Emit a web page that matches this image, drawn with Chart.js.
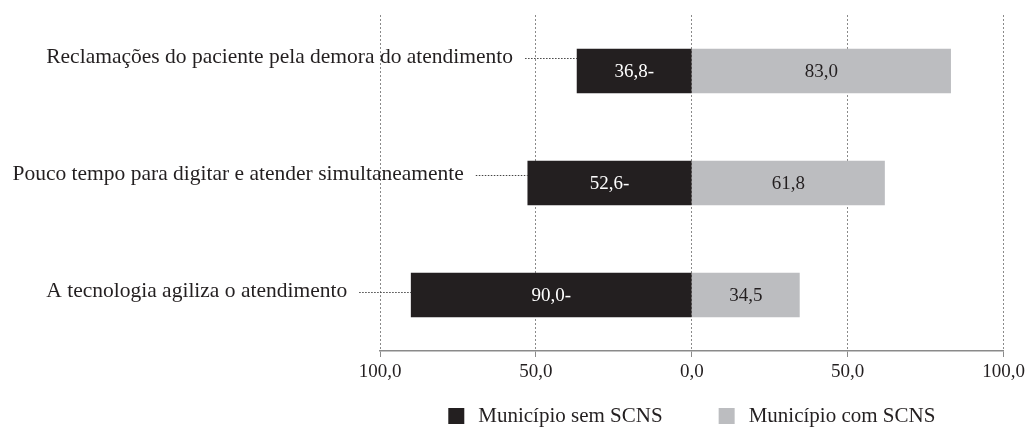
<!DOCTYPE html>
<html>
<head>
<meta charset="utf-8">
<script src="https://cdn.jsdelivr.net/npm/chart.js@4.4.1/dist/chart.umd.min.js"></script>
<style>
  html, body { margin: 0; padding: 0; background: #fff; }
  #wrap { width: 1029px; height: 431px; }
</style>
</head>
<body>
<div id="wrap"><canvas id="chart" width="1029" height="431"></canvas></div>
<script>
// data
var categories = [
  'Reclamações do paciente pela demora do atendimento',
  'Pouco tempo para digitar e atender simultaneamente',
  'A tecnologia agiliza o atendimento'
];
var semSCNS = [36.8, 52.6, 90.0];
var comSCNS = [83.0, 61.8, 34.5];
var tickValues = [-100, -50, 0, 50, 100];
var seriesNames = ['Município sem SCNS', 'Município com SCNS'];

var DARK = '#231f20';
var GREY = '#bcbdc0';
var FONT = '"Liberation Serif", "Times New Roman", serif';
var NUM_SIZE = 19;
var TEXT_SIZE = 21.5;

function fmt(v) {
  return Math.abs(v).toFixed(1).replace('.', ',');
}

// value labels, category labels with dotted leaders, and legend
var annotate = {
  id: 'annotate',
  afterDatasetsDraw: function(chart) {
    var ctx = chart.ctx;
    var left = chart.getDatasetMeta(0).data;
    var right = chart.getDatasetMeta(1).data;
    ctx.save();
    ctx.textBaseline = 'middle';

    left.forEach(function(bar, i) {
      var rb = right[i];
      ctx.font = NUM_SIZE + 'px ' + FONT;
      ctx.textAlign = 'center';
      ctx.fillStyle = '#fff';
      ctx.fillText(fmt(semSCNS[i]) + '-', (bar.x + bar.base) / 2, bar.y + 1);
      ctx.fillStyle = DARK;
      ctx.fillText(fmt(comSCNS[i]), (rb.x + rb.base) / 2, rb.y + 1);

      // category label sits a bit above the bar centre (less so further down)
      var ly = Math.round(bar.y - 13 + 5 * i) + 0.5;
      var textEnd = bar.x - 64;
      ctx.font = TEXT_SIZE + 'px ' + FONT;
      ctx.textAlign = 'right';
      ctx.fillText(categories[i], textEnd, ly - 1);

      ctx.beginPath();
      ctx.setLineDash([1.5, 1.5]);
      ctx.strokeStyle = '#444';
      ctx.lineWidth = 1;
      ctx.moveTo(textEnd + 12, ly);
      ctx.lineTo(bar.x, ly);
      ctx.stroke();
      ctx.setLineDash([]);
    });
    ctx.restore();
  },
  afterDraw: function(chart) {
    var ctx = chart.ctx;
    var area = chart.chartArea;
    ctx.save();
    ctx.font = '21px ' + FONT;
    ctx.textBaseline = 'middle';
    ctx.textAlign = 'left';
    var items = chart.data.datasets.map(function(ds) {
      return { ds: ds, w: 16 + 14 + ctx.measureText(ds.label).width };
    });
    var gap = 56;
    var total = items.reduce(function(s, it) { return s + it.w; }, 0) + gap * (items.length - 1);
    var x = (area.left + area.right) / 2 - total / 2;
    var y = 416;
    items.forEach(function(it) {
      ctx.fillStyle = it.ds.backgroundColor;
      ctx.fillRect(x, y - 8, 16, 16);
      ctx.fillStyle = DARK;
      ctx.fillText(it.ds.label, x + 30, y);
      x += it.w + gap;
    });
    ctx.restore();
  }
};

new Chart(document.getElementById('chart'), {
  type: 'bar',
  data: {
    labels: categories,
    datasets: [
      { label: seriesNames[0], data: semSCNS.map(function(v) { return -v; }), backgroundColor: DARK },
      { label: seriesNames[1], data: comSCNS, backgroundColor: GREY }
    ]
  },
  options: {
    indexAxis: 'y',
    responsive: false,
    animation: false,
    layout: { padding: { top: 15, right: 23, left: 0, bottom: 0 } },
    barThickness: 44,
    plugins: {
      legend: { display: false },
      tooltip: { enabled: false }
    },
    scales: {
      x: {
        stacked: true,
        min: -100,
        max: 100,
        afterBuildTicks: function(axis) {
          axis.ticks = tickValues.map(function(v) { return { value: v }; });
        },
        afterFit: function(axis) { axis.height = 80; },
        ticks: {
          color: DARK,
          font: { family: FONT, size: NUM_SIZE },
          padding: 4,
          maxRotation: 0,
          callback: function(v) { return fmt(v); }
        },
        grid: { color: '#8a8a8a', lineWidth: 1, drawTicks: true, tickLength: 6 },
        border: { display: true, color: '#8a8a8a', width: 1.5, dash: [2, 2] }
      },
      y: {
        stacked: true,
        afterFit: function(axis) { axis.width = 380; },
        ticks: { display: false },
        grid: { display: false },
        border: { display: false }
      }
    }
  },
  plugins: [annotate]
});
</script>
</body>
</html>
